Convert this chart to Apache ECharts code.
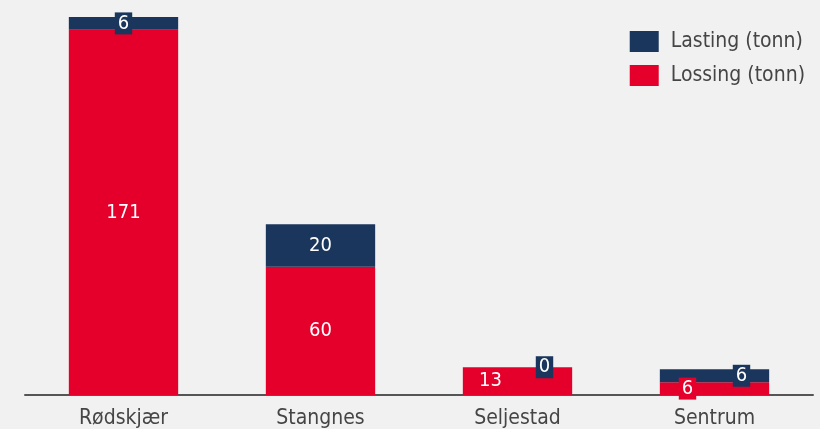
<!DOCTYPE html>
<html><head><meta charset="utf-8">
<script src="https://cdn.jsdelivr.net/npm/echarts@6/dist/echarts.min.js"></script>
<style>html,body{margin:0;padding:0;background:#f1f1f1}#c{width:820px;height:429px}</style>
</head><body><div id="c"></div>
<script>
const categories = ['Rødskjær', 'Stangnes', 'Seljestad', 'Sentrum'];
const lossing = [171, 60, 13, 6];
const lasting = [6, 20, 0, 6];
const seriesNames = ['Lasting (tonn)', 'Lossing (tonn)'];

const RED = '#e4002b', NAVY = '#1b365d';
const FONT = '"DejaVu Sans Condensed", "DejaVu Sans", sans-serif';

function items(vals, shift) {
  return vals.map((v, i) => {
    const small = (lossing[i] + lasting[i]) < 30;
    return small ? { value: v, label: { offset: [shift, 0] } } : v;
  });
}

const chart = echarts.init(document.getElementById('c'));
chart.setOption({
  backgroundColor: '#f1f1f1',
  animation: false,
  grid: { left: 25, right: 7, top: 17, bottom: 33 },
  legend: {
    orient: 'vertical', right: 10, top: 26, icon: 'rect',
    itemWidth: 29, itemHeight: 21, itemGap: 13,
    data: seriesNames,
    textStyle: { fontFamily: FONT, fontSize: 21, color: '#454545', padding: [0, 0, 0, 7] }
  },
  xAxis: {
    type: 'category', data: categories,
    axisLine: { lineStyle: { color: '#555', width: 2 } },
    axisTick: { show: false },
    axisLabel: { fontFamily: FONT, fontSize: 21, color: '#454545', margin: 13 }
  },
  yAxis: { type: 'value', min: 0, max: 177, show: false, splitLine: { show: false } },
  series: [
    {
      name: seriesNames[1], type: 'bar', stack: 't', barWidth: '55.5%',
      itemStyle: { color: RED },
      data: items(lossing, -27),
      label: { show: true, position: 'inside', color: '#fff', fontFamily: FONT, fontSize: 20, fontWeight: 500,
        backgroundColor: RED, padding: [1, 3] }
    },
    {
      name: seriesNames[0], type: 'bar', stack: 't', barWidth: '55.5%',
      itemStyle: { color: NAVY },
      data: items(lasting, 27),
      label: { show: true, position: 'inside', color: '#fff', fontFamily: FONT, fontSize: 20, fontWeight: 500,
        backgroundColor: NAVY, padding: [1, 3] }
    }
  ]
});
</script></body></html>
